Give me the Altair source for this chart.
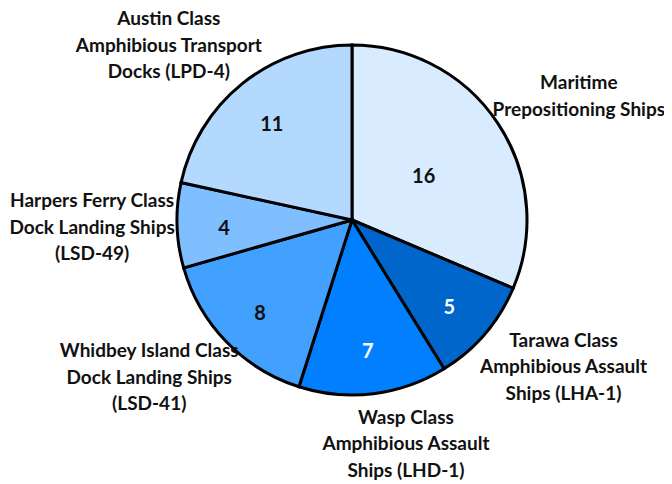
import altair as alt
import pandas as pd

categories = [
    "Maritime\nPrepositioning Ships",
    "Tarawa Class\nAmphibious Assault\nShips (LHA-1)",
    "Wasp Class\nAmphibious Assault\nShips (LHD-1)",
    "Whidbey Island Class\nDock Landing Ships\n(LSD-41)",
    "Harpers Ferry Class\nDock Landing Ships\n(LSD-49)",
    "Austin Class\nAmphibious Transport\nDocks (LPD-4)",
]
values = [16, 5, 7, 8, 4, 11]
colors = ["#d9ecff", "#0066cc", "#0080ff", "#42a0ff", "#80bfff", "#b3d9ff"]
text_colors = ["#111111", "#ffffff", "#ffffff", "#111111", "#111111", "#111111"]

df = pd.DataFrame({
    "cat": categories,
    "value": values,
    "order": list(range(len(values))),
    "fill": colors,
    "tcolor": text_colors,
})

FONT = "Lato"
CX, CY = 344, 212
LH = 26.5


def with_angles(chart):
    return chart.transform_joinaggregate(
        total="sum(value)"
    ).transform_window(
        cum="sum(value)", sort=[alt.SortField("order")]
    ).transform_calculate(
        a0="2*PI*(datum.cum - datum.value)/datum.total",
        a1="2*PI*datum.cum/datum.total",
        mid="2*PI*(datum.cum - datum.value/2)/datum.total",
    )


base = with_angles(alt.Chart(df)).transform_calculate(
    rnum="datum.value > 12 ? 86 : 128",
).encode(
    x=alt.value(CX),
    y=alt.value(CY),
)

pie = base.mark_arc(outerRadius=175, stroke="black", strokeWidth=3).encode(
    theta=alt.Theta("a0:Q", scale=None),
    theta2="a1:Q",
    color=alt.Color("fill:N", scale=None),
)

nums = base.mark_text(font=FONT, fontSize=20, fontWeight="bold", dy=5).encode(
    theta=alt.Theta("mid:Q", scale=None),
    text="value:Q",
    radius=alt.Radius("rnum:Q", scale=None),
    color=alt.Color("tcolor:N", scale=None),
)

labels = with_angles(alt.Chart(df)).transform_calculate(
    s="sin(datum.mid)",
    c="cos(datum.mid)",
    nlines="length(split(datum.cat, '\\n'))",
).transform_calculate(
    lx=f"{CX} + 260*(datum.s < 0 ? -1 : 1)*pow(abs(datum.s), 0.75)",
    ly=f"{CY} + 1 - 225*datum.c - {LH/2}*(datum.nlines - 1)",
).mark_text(
    font=FONT, fontSize=19, fontWeight="bold", lineBreak="\n",
    lineHeight=LH, align="center", baseline="middle", color="#111111",
).encode(
    x=alt.X("lx:Q", scale=None),
    y=alt.Y("ly:Q", scale=None),
    text="cat:N",
)

chart = alt.layer(pie, nums, labels).properties(
    width=656, height=476, padding=0, autosize="none",
).configure_view(stroke=None)

chart.save("out.html", embed_options={"renderer": "svg", "actions": False})
